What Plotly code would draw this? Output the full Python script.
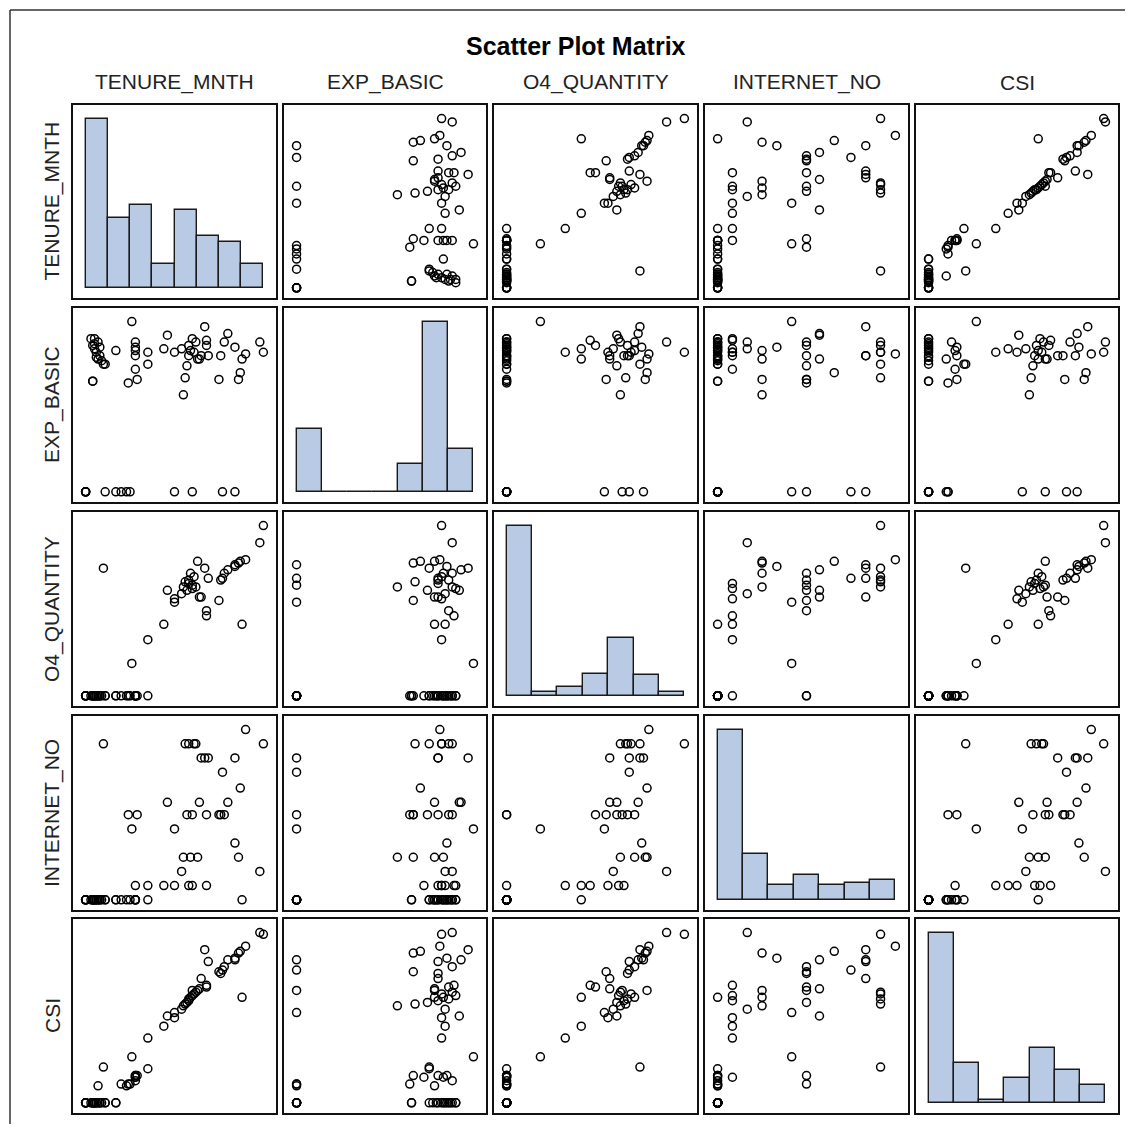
import numpy as np
import plotly.graph_objects as go

VARS = ["TENURE_MNTH", "EXP_BASIC", "O4_QUANTITY", "INTERNET_NO", "CSI"]

# one entry per customer (0-100 scale)
TENURE_MNTH = [100, 98, 90, 88, 87, 86, 84, 84, 80, 78, 77, 76, 75, 69, 68, 68, 67, 65, 64, 63,
               62, 61, 60, 60, 59, 58, 58, 57, 56, 55, 54, 50, 50, 46, 44, 35, 29, 28, 35, 26,
               10, 7, 24, 25, 23, 20, 17, 11, 0, 0, 0, 0, 0, 28, 28, 28, 28, 17, 11, 4,
               4, 5, 9, 8, 6, 5, 4, 7, 3, 6, 8, 5]
EXP_BASIC = [82, 88, 81, 78, 70, 66, 85, 0, 93, 88, 0, 80, 66, 80, 86, 89, 97, 80, 78, 78,
             88, 82, 0, 90, 83, 86, 80, 74, 67, 57, 84, 0, 82, 92, 84, 82, 66, 72, 75, 100,
             75, 78, 64, 0, 0, 0, 0, 0, 0, 0, 0, 0, 0, 80, 83, 85, 88, 83, 75, 65,
             65, 90, 77, 80, 82, 84, 86, 88, 90, 79, 85, 87]
O4_QUANTITY = [100, 90, 80, 42, 79, 78, 76, 77, 74, 72, 69, 68, 56, 69, 50, 47, 75, 58, 58, 79,
               64, 70, 65, 63, 72, 68, 66, 62, 67, 64, 60, 55, 57, 62, 42, 33, 0, 0, 0, 19,
               75, 0, 0, 0, 0, 0, 0, 0, 0, 0, 0, 0, 0, 0, 0, 0, 0, 0, 0, 0,
               0, 0, 0, 0, 0, 0, 0, 0, 0, 0, 0, 0]
INTERNET_NO = [88, 16, 96, 0, 63, 24, 32, 80, 55, 48, 72, 48, 48, 80, 48, 8, 80, 80, 55, 24,
               88, 88, 48, 8, 24, 88, 8, 48, 88, 24, 16, 40, 8, 55, 8, 8, 48, 8, 0, 40,
               88, 0, 48, 0, 0, 0, 0, 0, 0, 0, 0, 0, 0, 0, 0, 0, 0, 0, 0, 0,
               0, 0, 0, 0, 0, 0, 0, 0, 0, 0, 0, 0]
CSI = [99, 100, 92, 62, 89, 88, 85, 84, 84, 80, 78, 76, 77, 83, 68, 69, 90, 73, 67, 66,
       65, 64, 66, 63, 62, 61, 60, 59, 58, 57, 55, 53, 50, 51, 45, 38, 16, 15, 20, 27,
       21, 10, 11, 11, 10, 11, 0, 0, 0, 0, 0, 0, 0, 16, 15, 16, 13, 0, 0, 0,
       0, 0, 0, 0, 0, 0, 0, 0, 0, 0, 0, 0]

# histogram bar heights (percent of customers)
HIST_TENURE_MNTH = [31.1, 12.8, 15.2, 4.3, 14.3, 9.6, 8.5, 4.3]
HIST_EXP_BASIC = [20.7, 0, 0, 0, 9.2, 56.1, 14.1]
HIST_O4_QUANTITY = [59.2, 1.4, 2.9, 7.6, 20.2, 7.2, 1.4]
HIST_INTERNET_NO = [55.3, 14.8, 4.9, 8.2, 4.9, 5.6, 6.3]
HIST_CSI = [49.4, 11.6, 0.9, 7.3, 16.0, 9.6, 5.2]

DATA = [TENURE_MNTH, EXP_BASIC, O4_QUANTITY, INTERNET_NO, CSI]
HISTS = [HIST_TENURE_MNTH, HIST_EXP_BASIC, HIST_O4_QUANTITY, HIST_INTERNET_NO, HIST_CSI]

W, H = 1117, 1116
OFF = 8
COL_PX = [(73, 276), (284, 486), (494, 697), (705, 908), (916, 1118)]
ROW_PX = [(105, 298), (308, 502), (512, 706), (716, 910), (919, 1113)]
PADX = 0.071
PADY_LO, PADY_HI = 0.06, 0.08


def px_x(x):
    return (x - OFF) / W


def px_y(y):
    return 1 - (y - OFF) / H


def rng(vals, lo, hi):
    a, b = min(vals), max(vals)
    s = b - a
    return [a - lo * s, b + hi * s]


fig = go.Figure()
layout = {}
FILL = "#b9cbe4"

for r in range(5):
    for c in range(5):
        k = r * 5 + c + 1
        xa = "xaxis" if k == 1 else f"xaxis{k}"
        ya = "yaxis" if k == 1 else f"yaxis{k}"
        xr = "x" if k == 1 else f"x{k}"
        yr = "y" if k == 1 else f"y{k}"
        common = dict(showline=True, mirror=True, linecolor="#111", linewidth=1.6,
                      showticklabels=False, showgrid=False, zeroline=False, ticks="")
        layout[xa] = dict(domain=[px_x(COL_PX[c][0]), px_x(COL_PX[c][1])], anchor=yr,
                          range=rng(DATA[c], PADX, PADX), **common)
        if r == c:
            hv = HISTS[r]
            n = len(hv)
            lo, hi = min(DATA[r]), max(DATA[r])
            edges = np.linspace(lo, hi, n + 1)
            centers = (edges[:-1] + edges[1:]) / 2
            width = edges[1] - edges[0]
            mx = max(hv)
            layout[ya] = dict(domain=[px_y(ROW_PX[r][1]), px_y(ROW_PX[r][0])], anchor=xr,
                              range=[-PADY_LO * mx, mx * (1 + PADY_HI)], **common)
            fig.add_trace(go.Bar(x=centers, y=hv, width=[width] * n, xaxis=xr, yaxis=yr,
                                 marker=dict(color=FILL, line=dict(color="#1a1a1a", width=1.4)),
                                 showlegend=False, hoverinfo="skip"))
        else:
            layout[ya] = dict(domain=[px_y(ROW_PX[r][1]), px_y(ROW_PX[r][0])], anchor=xr,
                              range=rng(DATA[r], PADY_LO, PADY_HI), **common)
            fig.add_trace(go.Scatter(x=DATA[c], y=DATA[r], mode="markers", xaxis=xr, yaxis=yr,
                                     marker=dict(symbol="circle-open", size=8,
                                                 color="#000", line=dict(width=1.5, color="#000")),
                                     showlegend=False, hoverinfo="skip"))

FONT = "Liberation Sans, Arial, sans-serif"
annotations = [dict(text="<b>Scatter Plot Matrix</b>", x=px_x(576), y=px_y(46), xref="paper", yref="paper",
                    xanchor="center", yanchor="middle",
                    showarrow=False, font=dict(family=FONT, size=25, color="#000"))]
for i, name in enumerate(VARS):
    cx = (COL_PX[i][0] + COL_PX[i][1]) / 2
    annotations.append(dict(text=name, x=px_x(cx), y=px_y(82), xref="paper", yref="paper",
                            xanchor="center", yanchor="middle",
                            showarrow=False, font=dict(family=FONT, size=21, color="#222")))
    cy = (ROW_PX[i][0] + ROW_PX[i][1]) / 2
    annotations.append(dict(text=name, x=px_x(52), y=px_y(cy), xref="paper", yref="paper",
                            xanchor="center", yanchor="middle",
                            textangle=-90, showarrow=False,
                            font=dict(family=FONT, size=21, color="#222")))

# outer frame: only top and left edges are visible in the reference
shapes = [
    dict(type="line", xref="paper", yref="paper", x0=px_x(10), x1=1, y0=px_y(10), y1=px_y(10),
         line=dict(color="#333", width=1.5)),
    dict(type="line", xref="paper", yref="paper", x0=px_x(10), x1=px_x(10), y0=0, y1=px_y(10),
         line=dict(color="#333", width=1.5)),
]

fig.update_layout(width=W, height=H, margin=dict(l=0, r=0, t=0, b=0),
                  paper_bgcolor="white", plot_bgcolor="white",
                  annotations=annotations, shapes=shapes, bargap=0, **layout)

fig.write_html("out.html")
